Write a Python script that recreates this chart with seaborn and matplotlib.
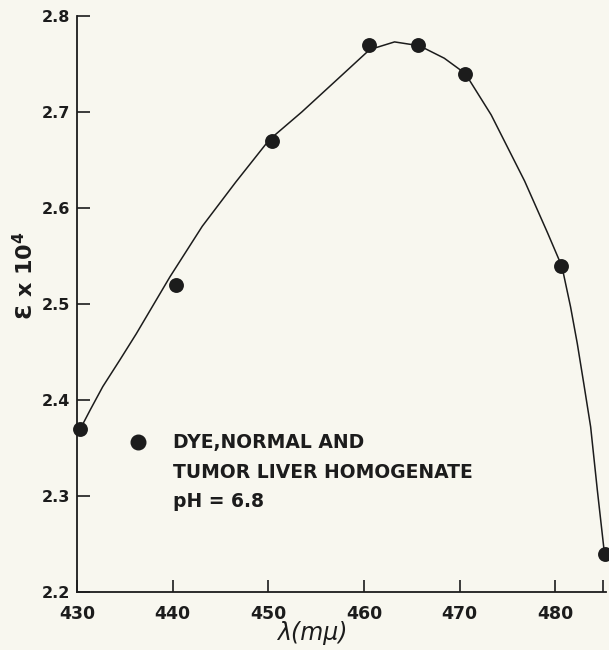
import pandas as pd
import seaborn as sns
import matplotlib.pyplot as plt
from matplotlib.lines import Line2D

# measured points: wavelength (m-mu) and extinction coefficient (x 10^4)
wavelength = [430.3, 440.3, 450.4, 460.5, 465.6, 470.6, 480.6, 485.2]
extinction = [2.37, 2.52, 2.67, 2.77, 2.77, 2.74, 2.54, 2.24]

# hand-drawn smooth curve
curve_wl = [430.3, 431.4, 432.7, 434.5, 436.2, 439.7, 443.1, 446.6, 450.1,
            453.5, 457.0, 460.6, 463.2, 465.8, 468.4, 470.6, 473.3, 476.8,
            479.2, 480.7, 481.6, 482.3, 483.0, 483.7, 484.4, 485.2]
curve_eps = [2.369, 2.390, 2.414, 2.442, 2.469, 2.528, 2.581, 2.627, 2.671,
             2.700, 2.732, 2.765, 2.773, 2.769, 2.756, 2.740, 2.697, 2.628,
             2.574, 2.539, 2.497, 2.459, 2.416, 2.372, 2.306, 2.235]

legend_lines = ['DYE,NORMAL AND', 'TUMOR LIVER HOMOGENATE', 'pH = 6.8']
x_ticks = [430, 440, 450, 460, 470, 480]
y_ticks = [2.2, 2.3, 2.4, 2.5, 2.6, 2.7, 2.8]

pts = pd.DataFrame({'wl': wavelength, 'eps': extinction})
curve = pd.DataFrame({'wl': curve_wl, 'eps': curve_eps})

sns.set_style('ticks')
plt.rcParams['font.family'] = ['DejaVu Sans']
plt.rcParams['font.weight'] = 'bold'

bg = '#f8f7ef'
ink = '#1c1c1c'

fig = plt.figure(figsize=(6.09, 6.50), dpi=100, facecolor=bg)
ax = fig.add_axes([0.1264, 0.0892, 0.8686, 0.8862], facecolor=bg)

sns.lineplot(data=curve, x='wl', y='eps', sort=False, color=ink, lw=1.1,
             clip_on=False, ax=ax)
sns.scatterplot(data=pts, x='wl', y='eps', s=115, color=ink, edgecolor=ink,
                linewidth=0, zorder=5, clip_on=False, ax=ax)

ax.set_xlim(430, 485.3)
ax.set_ylim(2.2, 2.8)
ax.set_xticks(x_ticks + [485])
ax.set_xticklabels([str(t) for t in x_ticks] + [''])
ax.set_yticks(y_ticks)
ax.set_yticklabels([f'{t:.1f}' for t in y_ticks])

sns.despine(ax=ax)
for s in ['left', 'bottom']:
    ax.spines[s].set_color(ink)
    ax.spines[s].set_linewidth(1.3)

ax.tick_params(direction='in', length=9, width=1.2, color=ink,
               labelcolor=ink)
ax.tick_params(axis='x', pad=9, labelsize=12.5)
ax.tick_params(axis='y', pad=5, labelsize=11.5)

ax.set_xlabel('λ(mμ)', fontsize=17, color=ink, fontstyle='italic',
              fontweight='normal')
ax.xaxis.set_label_coords(0.445, -0.05)
ax.set_ylabel('Ɛ x 10$^4$', fontsize=16, color=ink, fontweight='bold')
ax.yaxis.set_label_coords(-0.075, 0.55)

handles = [Line2D([], [], marker='o', linestyle='none', color=ink, markersize=10.5)]
handles += [Line2D([], [], linestyle='none')] * 2
ax.legend(handles, legend_lines, loc='upper left',
          bbox_to_anchor=(0.065, 0.305), frameon=False,
          fontsize=13.5, handlelength=1.0, handletextpad=1.4,
          labelspacing=0.55, labelcolor=ink)

fig.savefig('out.png', dpi=100, facecolor=bg)
